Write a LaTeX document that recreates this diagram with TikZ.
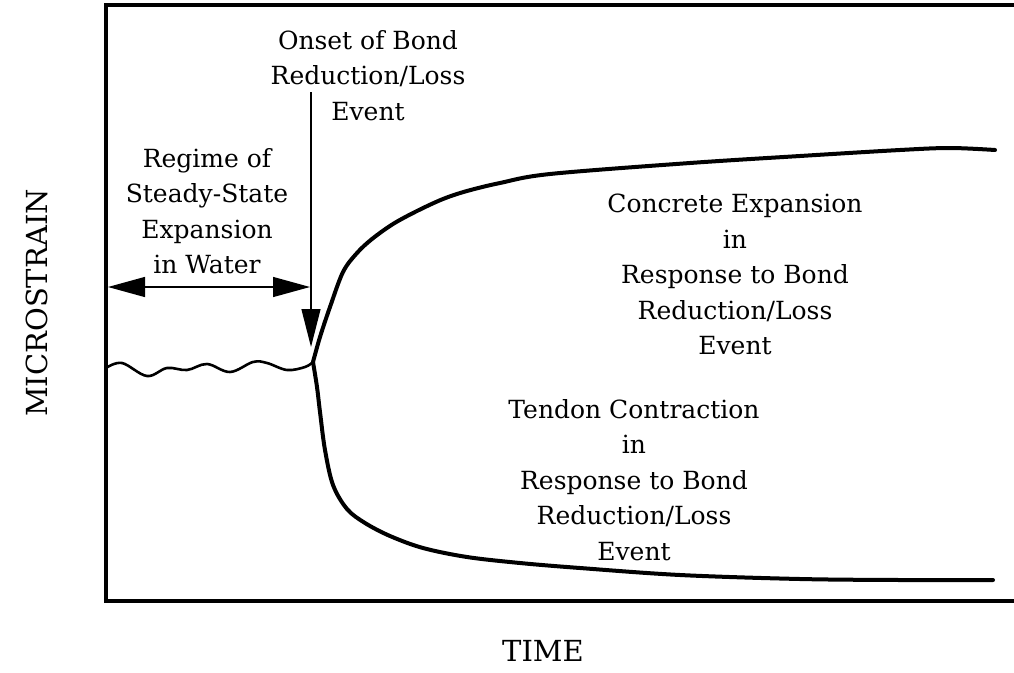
\documentclass[tikz,border=0pt]{standalone}
\usepackage{fontspec}
\setmainfont{DejaVu Serif}
\usetikzlibrary{arrows.meta}
\tikzset{
  frameline/.style={line width=4.5pt, line cap=rect},
  curveline/.style={line width=4pt, line cap=round, line join=round},
  waveline/.style={line width=2.6pt, line cap=round},
  pointer/.style={line width=1.3pt, -{Triangle[length=38pt, width=19pt]}},
  span/.style={line width=1.3pt, {Triangle[length=37pt, width=20pt]}-{Triangle[length=37pt, width=20pt]}},
  lbl/.style={align=center, inner sep=0pt, anchor=north, font=\fontsize{25}{35.5}\selectfont},
  axislbl/.style={inner sep=0pt, anchor=base, font=\fontsize{29}{34}\selectfont}
}
\begin{document}
\begin{tikzpicture}[x=1pt, y=-1pt]
\useasboundingbox (0,0) rectangle (1014,672);
% frame
\coordinate (tr) at (1016,5);
\coordinate (tl) at (106,5);
\coordinate (bl) at (106,601);
\coordinate (br) at (1016,601);
\draw[frameline] (tr) -- (tl) -- (bl) -- (br);
% onset point
\coordinate (onset) at (313,362);
% wavy steady-state line
\draw[waveline] plot[smooth, tension=0.6] coordinates {(106,368) (122,363) (147,376) (167,368) (187,370) (207,364) (230,372) (253,362) (267,363) (287,370) (305,367) (313,362)};
% concrete expansion curve
\draw[curveline] plot[smooth, tension=0.55] coordinates {(313,362) (320,337) (330,307) (343,272) (357,253) (372,239) (393,224) (417,211) (443,199) (467,191) (500,183) (550,174) (690,163) (800,156) (900,150) (950,148) (995,150)};
% tendon contraction curve
\draw[curveline] plot[smooth, tension=0.55] coordinates {(313,362) (317,387) (320,412) (325,450) (333,485) (347,509) (365,523) (390,536) (423,548) (467,557) (520,563) (580,568) (680,575) (800,579) (900,580) (993,580)};
% labels
\node[lbl] (onsetlbl) at (368,30) {Onset of Bond\\Reduction/Loss\\Event};
\node[lbl] (regime) at (207,148) {Regime of\\Steady-State\\Expansion\\in Water};
\node[lbl] (concrete) at (735,194) {Concrete Expansion\\in\\Response to Bond\\Reduction/Loss\\Event};
\node[lbl] (tendon) at (634,399) {Tendon Contraction\\in\\Response to Bond\\Reduction/Loss\\Event};
\node[axislbl] (time) at (543,661) {TIME};
\node[axislbl, rotate=90] (micro) at (47,303) {MICROSTRAIN};
% arrows
\coordinate (vtop) at (311,92);
\coordinate (vtip) at (311,347);
\draw[pointer] (vtop) -- (vtip);
\coordinate (hl) at (108,287);
\coordinate (hr) at (310,287);
\draw[span] (hl) -- (hr);
\end{tikzpicture}
\end{document}
